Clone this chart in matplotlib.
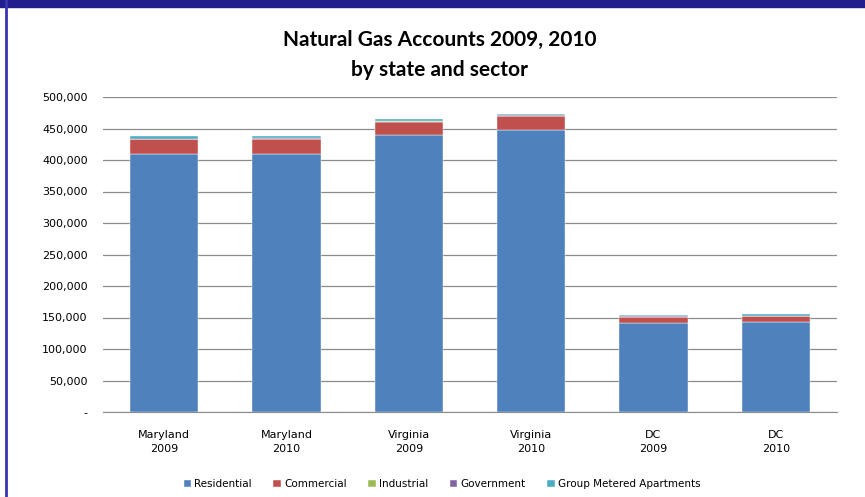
import matplotlib
matplotlib.use("Agg")
import matplotlib.pyplot as plt
from matplotlib.patches import Rectangle
from matplotlib.lines import Line2D
from matplotlib.ticker import FuncFormatter
import numpy as np

categories = ["Maryland\n2009", "Maryland\n2010", "Virginia\n2009",
              "Virginia\n2010", "DC\n2009", "DC\n2010"]
residential = [409000, 409500, 440000, 448000, 142000, 143000]
commercial = [24000, 24000, 21000, 22000, 9000, 9000]
industrial = [600, 600, 500, 500, 300, 300]
government = [400, 400, 400, 400, 300, 300]
group_metered = [3500, 3800, 3000, 2800, 3000, 3200]

series = [("Residential", residential, "#4F81BD"),
          ("Commercial", commercial, "#C0504D"),
          ("Industrial", industrial, "#9BBB59"),
          ("Government", government, "#8064A2"),
          ("Group Metered Apartments", group_metered, "#4BACC6")]

fig = plt.figure(figsize=(8.65, 4.97), dpi=100)
ax = fig.add_axes([103 / 865, 85 / 497, 734 / 865, 315 / 497])

# frame decorations from the slide
fig.patches.append(Rectangle((0, 1 - 7 / 497), 1, 7 / 497, transform=fig.transFigure,
                             color="#231C8C", zorder=0))
fig.lines.append(Line2D([6 / 865, 6 / 865], [0, 1], transform=fig.transFigure,
                        color="#3B34B0", lw=2))

x = np.arange(len(categories))
bottom = np.zeros(len(categories))
for name, vals, col in series:
    ax.bar(x, vals, 0.56, bottom=bottom, color=col, label=name, zorder=3,
           edgecolor="#ffffff", linewidth=0.3)
    bottom += np.array(vals)

ax.set_xlim(-0.5, len(categories) - 0.5)
ax.set_ylim(0, 500000)
ax.set_yticks(np.arange(0, 500001, 50000))
ax.yaxis.set_major_formatter(FuncFormatter(lambda v, p: "-" if v == 0 else f"{int(v):,}"))
ax.set_xticks(x)
ax.set_xticklabels(categories, fontsize=8, family="DejaVu Sans", linespacing=1.45)
ax.tick_params(axis="y", labelsize=8, length=0, pad=11)
ax.tick_params(axis="x", length=0, pad=13)
for lab in ax.get_yticklabels():
    lab.set_family("DejaVu Sans")
ax.grid(axis="y", color="#8c8c8c", lw=0.9, zorder=0)
for s in ["top", "right", "left"]:
    ax.spines[s].set_visible(False)
ax.spines["bottom"].set_color("#8c8c8c")

fig.text(0.508, 1 - 40 / 497, "Natural Gas Accounts 2009, 2010", ha="center", va="center",
         fontsize=15, fontweight="bold", family="Lato")
fig.text(0.508, 1 - 70 / 497, "by state and sector", ha="center", va="center",
         fontsize=15, fontweight="bold", family="Lato")

ax.legend(loc="center", bbox_to_anchor=(442 / 865, 1 - 484 / 497),
          bbox_transform=fig.transFigure, ncol=5, frameon=False,
          prop={"family": "DejaVu Sans", "size": 7.5}, handlelength=0.7,
          handleheight=0.7, handletextpad=0.3, columnspacing=2.1)

fig.savefig("out.png", dpi=100)
